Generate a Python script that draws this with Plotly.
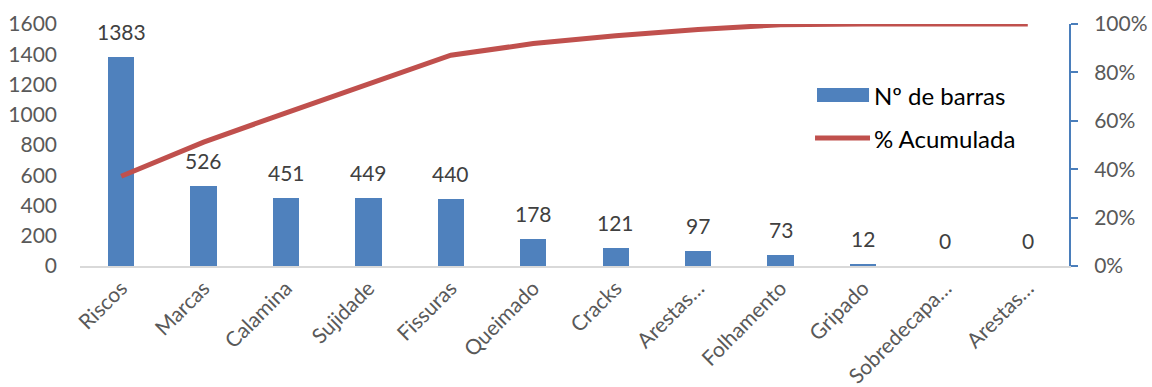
import plotly.graph_objects as go

# Defect categories (Pareto order) and their counts
categorias = ["Riscos", "Marcas", "Calamina", "Sujidade", "Fissuras", "Queimado",
              "Cracks", "Arestas…", "Folhamento", "Gripado", "Sobredecapa…", "Arestas…"]
num_barras = [1383, 526, 451, 449, 440, 178, 121, 97, 73, 12, 0, 0]
# Cumulative share of defects, in percent
pct_acumulada = [37.1, 51.2, 63.3, 75.3, 87.1, 91.9, 95.1, 97.7, 99.7, 100, 100, 100]

left_ticks = [0, 200, 400, 600, 800, 1000, 1200, 1400, 1600]
right_ticks = [0, 20, 40, 60, 80, 100]

FONT = "Lato"
AXIS_GREY = "#595959"
BAR_BLUE = "#4f81bd"
LINE_RED = "#c0504d"

pos = list(range(len(categorias)))

fig = go.Figure()

fig.add_trace(go.Bar(
    x=pos, y=num_barras, name="Nº de barras",
    marker=dict(color=BAR_BLUE, line=dict(width=0)),
    width=0.32, showlegend=False,
))

fig.add_trace(go.Scatter(
    x=pos, y=[p / 100 for p in pct_acumulada], name="% Acumulada",
    mode="lines", line=dict(color=LINE_RED, width=5),
    yaxis="y2", cliponaxis=False, showlegend=False,
))

# Value labels above each bar
for i, v in zip(pos, num_barras):
    fig.add_annotation(
        x=i, y=v, text=str(v), showarrow=False, yanchor="bottom", yshift=11,
        font=dict(family=FONT, size=21, color="#404040"),
    )

# Legend drawn as keys + labels inside the plot area
fig.add_shape(type="rect", xref="paper", yref="paper",
              x0=0.7452, x1=0.7978, y0=0.6777, y1=0.7355,
              fillcolor=BAR_BLUE, line=dict(width=0))
fig.add_shape(type="line", xref="paper", yref="paper",
              x0=0.7432, x1=0.7988, y0=0.5289, y1=0.5289,
              line=dict(color=LINE_RED, width=5))
fig.add_annotation(xref="paper", yref="paper", x=0.8008, y=0.7066,
                   xanchor="left", yanchor="middle", showarrow=False,
                   text="Nº de barras", font=dict(family=FONT, size=24, color="#000000"))
fig.add_annotation(xref="paper", yref="paper", x=0.8008, y=0.5289,
                   xanchor="left", yanchor="middle", showarrow=False,
                   text="% Acumulada", font=dict(family=FONT, size=24, color="#000000"))

fig.update_layout(
    width=1152, height=387,
    margin=dict(l=80, r=83, t=24, b=121),
    paper_bgcolor="white", plot_bgcolor="white",
    font=dict(family=FONT, size=20, color=AXIS_GREY),
    bargap=0,
    xaxis=dict(
        range=[-0.5, 11.5], tickvals=pos, ticktext=categorias, tickangle=-45,
        showline=True, linecolor="#d9d9d9", linewidth=1.5,
        showgrid=False, zeroline=False, ticks="", automargin=False,
        tickfont=dict(family=FONT, size=21, color=AXIS_GREY),
    ),
    yaxis=dict(
        range=[0, 1600], tickvals=left_ticks, ticktext=[str(t) for t in left_ticks],
        showline=False, showgrid=False, zeroline=False, ticks="",
        ticklabelstandoff=22, automargin=False,
        tickfont=dict(family=FONT, size=21, color=AXIS_GREY),
    ),
    yaxis2=dict(
        overlaying="y", side="right", range=[0, 1],
        tickvals=[t / 100 for t in right_ticks], ticktext=[f"{t}%" for t in right_ticks],
        showline=True, linecolor="#4a7ebb", linewidth=2,
        ticks="outside", ticklen=7, tickwidth=2, tickcolor="#4a7ebb",
        ticklabelstandoff=12, automargin=False,
        showgrid=False, zeroline=False,
        tickfont=dict(family=FONT, size=21, color=AXIS_GREY),
    ),
)

fig.write_html("out.html")
